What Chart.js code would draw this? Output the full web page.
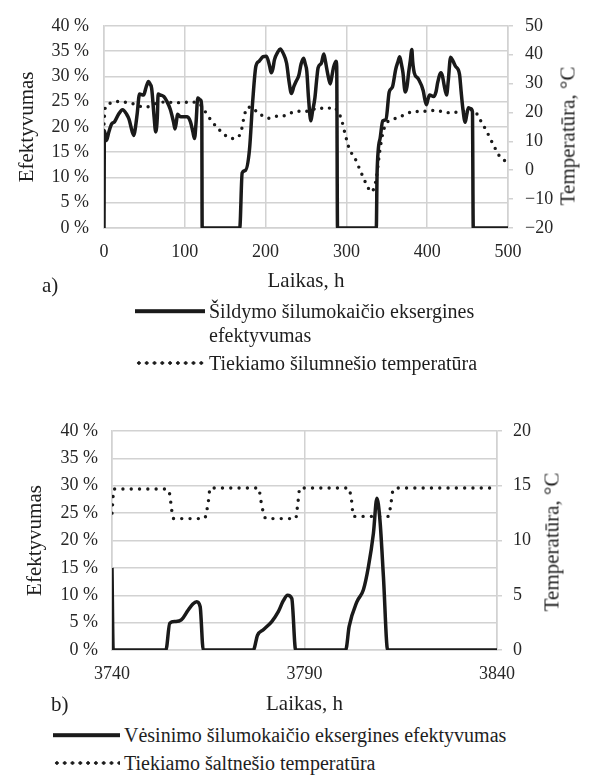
<!DOCTYPE html>
<html>
<head>
<meta charset="utf-8">
<script src="https://cdn.jsdelivr.net/npm/chart.js@4.4.1/dist/chart.umd.min.js"></script>
<style>
  body { margin: 0; background: #fff; width: 590px; height: 777px; position: relative; overflow: hidden;
         font-family: "Liberation Serif", Tinos, "Times New Roman", Times, "DejaVu Serif", serif; color: #1e1e1e; }
  canvas { position: absolute; left: 0; }
  .lbl { position: absolute; white-space: nowrap; line-height: 1; }
  .rot { position: absolute; white-space: nowrap; font-size: 21px; line-height: 1; transform: translate(-50%, -50%) rotate(-90deg); }
  .leg { position: absolute; font-size: 20px; line-height: 1; white-space: nowrap; transform: translateY(-50%); }
  .solid { position: absolute; height: 3.6px; background: #1a1a1a; transform: translateY(-50%); }
  .dots { position: absolute; height: 4px; transform: translateY(-50%);
          background: radial-gradient(circle, #1a1a1a 1.5px, transparent 1.9px); background-size: 7.8px 4px; }
</style>
</head>
<body>
<canvas id="grafA" width="590" height="300" style="top:0"></canvas>
<canvas id="grafB" width="590" height="340" style="top:380px"></canvas>

<div class="rot" style="left:568px; top:136px">Temperatūra, °C</div>
<div class="rot" style="left:552px; top:542px">Temperatūra, °C</div>

<div class="lbl" style="left:42px; top:275px; font-size:21px">a)</div>
<div class="lbl" style="left:51px; top:694px; font-size:21px">b)</div>

<div class="solid" style="left:135px; width:70px; top:311px"></div>
<div class="leg" style="left:209px; top:311px">Šildymo šilumokaičio eksergines</div>
<div class="leg" style="left:209px; top:335px">efektyvumas</div>
<div class="dots" style="left:135px; width:70px; top:363px"></div>
<div class="leg" style="left:209px; top:363px">Tiekiamo šilumnešio temperatūra</div>

<div class="solid" style="left:53px; width:67px; top:735px"></div>
<div class="leg" style="left:124px; top:735px">Vėsinimo šilumokaičio eksergines efektyvumas</div>
<div class="dots" style="left:53px; width:67px; top:763px"></div>
<div class="leg" style="left:124px; top:763px">Tiekiamo šaltnešio temperatūra</div>

<script>
// a) sildymas - laikas (h) ir efektyvumas (%)
const sildLaikas = [0, 0.5, 3, 6, 9.5, 13, 18, 23, 28, 31, 35, 37, 39, 41, 44, 49, 52, 55, 57, 59, 62, 64, 66, 67, 70, 74, 78, 82, 86, 88, 90, 91, 95, 103, 107, 110, 112, 114, 116, 119, 121, 121.5,
  168, 171, 175, 180, 184, 188, 192, 197, 201, 205, 207, 209, 211, 215, 218, 222, 226, 229, 232, 235, 238, 241, 244, 247, 249, 251, 253, 256, 258, 261, 263, 265, 269, 272, 274, 277, 280, 282, 284, 287, 288, 289,
  337, 338, 342, 345, 349, 353, 357, 361, 364, 366, 368, 370, 372, 373, 375, 377, 379, 381, 382, 384, 389, 395, 397, 399, 401, 403, 408, 411, 413, 417, 419, 421, 424, 426, 429, 432, 435, 440, 442, 444, 447, 449, 451, 454, 456, 457, 500];
const sildEfekt = [0, 19.3, 17.3, 19, 20.6, 21, 22.5, 23.4, 22.5, 21.5, 19, 18.3, 20, 22.5, 26.5, 26.3, 27.8, 29, 28.5, 27.6, 22, 19, 22, 26.5, 26.3, 26, 25, 23.5, 21, 19.6, 21.5, 22.5, 22, 22, 21, 19, 17.7, 21, 25.7, 25.4, 24, 0,
  0, 10.9, 11.4, 15.4, 25, 32, 33, 33.9, 34, 32, 30.7, 31.5, 33.3, 34.8, 35.4, 34.5, 32.6, 29, 26.6, 28, 29.1, 30.1, 32.5, 33.6, 32.5, 31, 26, 21.2, 23, 25.7, 29, 31.7, 32.6, 34.4, 33, 30.4, 28.5, 30, 31.7, 33, 32, 0,
  0, 11, 18, 21.2, 21.5, 26.9, 27.9, 31.4, 33, 33.9, 32.5, 30.7, 27.5, 26.9, 28, 30.7, 33, 35.3, 33, 30.7, 29.5, 27.2, 25.5, 24.4, 25.5, 26.3, 26, 27, 28.8, 30.7, 30, 28.2, 26.3, 29, 33.8, 33, 32, 30.4, 27, 23.8, 20.9, 22.5, 23.8, 23.6, 23, 0, 0];

// a) tiekiamo silumnesio temperatura (°C)
const sildTempLaikas = [0, 1, 3, 8, 15, 25, 36, 45, 53, 63, 75, 91, 108, 118, 125, 133, 141, 149, 158, 166, 170, 174, 178, 184, 190, 197, 203, 214, 222, 230, 238, 253, 265, 275, 284, 290, 294, 298, 304, 310, 317, 325, 331, 337, 341, 345, 349, 356, 364, 380, 395, 411, 420, 428, 444, 457, 465, 473, 481, 491, 500];
const sildTemp = [16, 20.5, 22.5, 23.2, 23.8, 23.6, 23, 22.1, 21.9, 23, 23.6, 23.4, 23.6, 23, 20.4, 17.1, 14.5, 12.3, 11, 11.5, 13.8, 19.3, 21.8, 21.7, 19.8, 18.8, 18, 18.7, 18.8, 19.7, 20.4, 20.4, 21.6, 21.3, 21.8, 20, 17.5, 13, 7.1, 4.5, 0, -5, -7.5, -2.9, 6, 12.7, 16, 17.5, 18.2, 20.1, 20.4, 20.7, 20.2, 19.9, 20.4, 21, 17.7, 13.8, 9.3, 4.3, 2.9];

// b) vesinimas
const vesLaikas = [3740, 3740.3, 3754, 3755, 3756.4, 3758, 3759.8, 3761, 3762, 3762.9, 3763.7, 3776.7, 3777.8, 3779.3, 3781.5, 3783.2, 3784.5, 3785.6, 3786.7, 3787.7,
  3800.7, 3801.6, 3803.6, 3805.3, 3806.6, 3807.9, 3808.8, 3809.6, 3810.5, 3811.6, 3840];
const vesEfekt = [15, 0, 0, 4.9, 5.2, 5.5, 7.3, 8.4, 8.8, 7.9, 0, 0, 2.7, 3.7, 5.2, 7, 9, 10, 9.4, 0,
  0, 4.3, 8.8, 11, 15.2, 21.3, 27.7, 23.7, 13.4, 0, 0];

const vesTempLaikas = [3740, 3740.5, 3754.2, 3755, 3755.5, 3756, 3764, 3765, 3765.5, 3778, 3779, 3780, 3787.7, 3788.3, 3788.8, 3801.4, 3802.2, 3802.7, 3811.8, 3812.5, 3813, 3814, 3840];
const vesTemp = [12.5, 14.7, 14.7, 14.2, 12.8, 12, 12, 13.5, 14.8, 14.8, 13, 12, 12, 13.5, 14.8, 14.8, 13.7, 12.2, 12.2, 13.5, 14.6, 14.8, 14.8];

const efektTicks = [0, 40, 5];
const sildTempTicks = [-20, 50, 10];
const vesTempTicks = [0, 20, 5];

Chart.defaults.font.family = '"Liberation Serif", Tinos, "Times New Roman", Times, "DejaVu Serif", serif';
Chart.defaults.color = '#262626';

const pilka = '#d2d2d2';
const poros = (xs, ys) => xs.map((x, i) => ({ x: x, y: ys[i] }));

function grafikas(id, cfg) {
    const ctx = document.getElementById(id).getContext('2d');
    new Chart(ctx, {
        type: 'line',
        data: {
            datasets: [{
                data: poros(cfg.x1, cfg.y1),
                borderColor: '#1a1a1a',
                borderWidth: 3.5,
                pointRadius: 0,
                cubicInterpolationMode: 'monotone',
                yAxisID: 'y'
            }, {
                data: poros(cfg.x2, cfg.y2),
                borderColor: '#1a1a1a',
                borderWidth: 3.4,
                borderDash: [0, cfg.dash],
                borderCapStyle: 'round',
                pointRadius: 0,
                cubicInterpolationMode: 'monotone',
                yAxisID: 'y1'
            }]
        },
        options: {
            responsive: false,
            animation: false,
            devicePixelRatio: 1,
            layout: { padding: { top: cfg.padTop, left: 0, right: 0, bottom: 0 } },
            plugins: { legend: { display: false }, tooltip: { enabled: false } },
            scales: {
                x: {
                    type: 'linear',
                    min: cfg.xTicks[0], max: cfg.xTicks[1],
                    afterFit: s => { s.height = cfg.xH; },
                    ticks: { stepSize: cfg.xTicks[2], padding: 13, font: { size: 18 }, maxRotation: 0, autoSkip: false,
                             callback: v => String(v) },
                    grid: { color: pilka, lineWidth: 1.5, drawTicks: false },
                    border: { color: pilka, width: 1.5 },
                    title: { display: true, text: 'Laikas, h', font: { size: 21 }, color: '#1e1e1e', padding: { top: 0, bottom: cfg.titleBottom } }
                },
                y: {
                    position: 'left',
                    min: efektTicks[0], max: efektTicks[1],
                    afterFit: s => { s.width = cfg.leftW; },
                    ticks: { stepSize: efektTicks[2], padding: cfg.leftPad, font: { size: 18 }, autoSkip: false, callback: v => v + ' %' },
                    grid: { color: pilka, lineWidth: 1.5, drawTicks: false },
                    border: { color: pilka, width: 1.5 },
                    title: { display: true, text: 'Efektyvumas', font: { size: 21 }, color: '#1e1e1e', padding: { top: cfg.leftTitle, bottom: 0 } }
                },
                y1: {
                    position: 'right',
                    min: cfg.tTicks[0], max: cfg.tTicks[1],
                    afterFit: s => { s.width = 590 - cfg.rightEdge; },
                    ticks: { stepSize: cfg.tTicks[2], padding: cfg.rightPad, font: { size: 18 }, autoSkip: false,
                             callback: v => String(v).replace('-', '\u2212') },
                    grid: { drawOnChartArea: false, drawTicks: true, tickLength: 5, color: pilka, lineWidth: 1.5 },
                    border: { color: pilka, width: 1.5 }
                }
            }
        }
    });
}

grafikas('grafA', {
    x1: sildLaikas, y1: sildEfekt, x2: sildTempLaikas, y2: sildTemp,
    xTicks: [0, 500, 100], tTicks: sildTempTicks, dash: 7.8,
    padTop: 18, xH: 72, titleBottom: 6, leftW: 104, leftPad: 15, leftTitle: 15,
    rightEdge: 508, rightPad: 12
});

grafikas('grafB', {
    x1: vesLaikas, y1: vesEfekt, x2: vesTempLaikas, y2: vesTemp,
    xTicks: [3740, 3840, 50], tTicks: vesTempTicks, dash: 8.3,
    padTop: 51, xH: 70, titleBottom: 3, leftW: 112, leftPad: 14, leftTitle: 23,
    rightEdge: 497, rightPad: 11
});
</script>
</body>
</html>
